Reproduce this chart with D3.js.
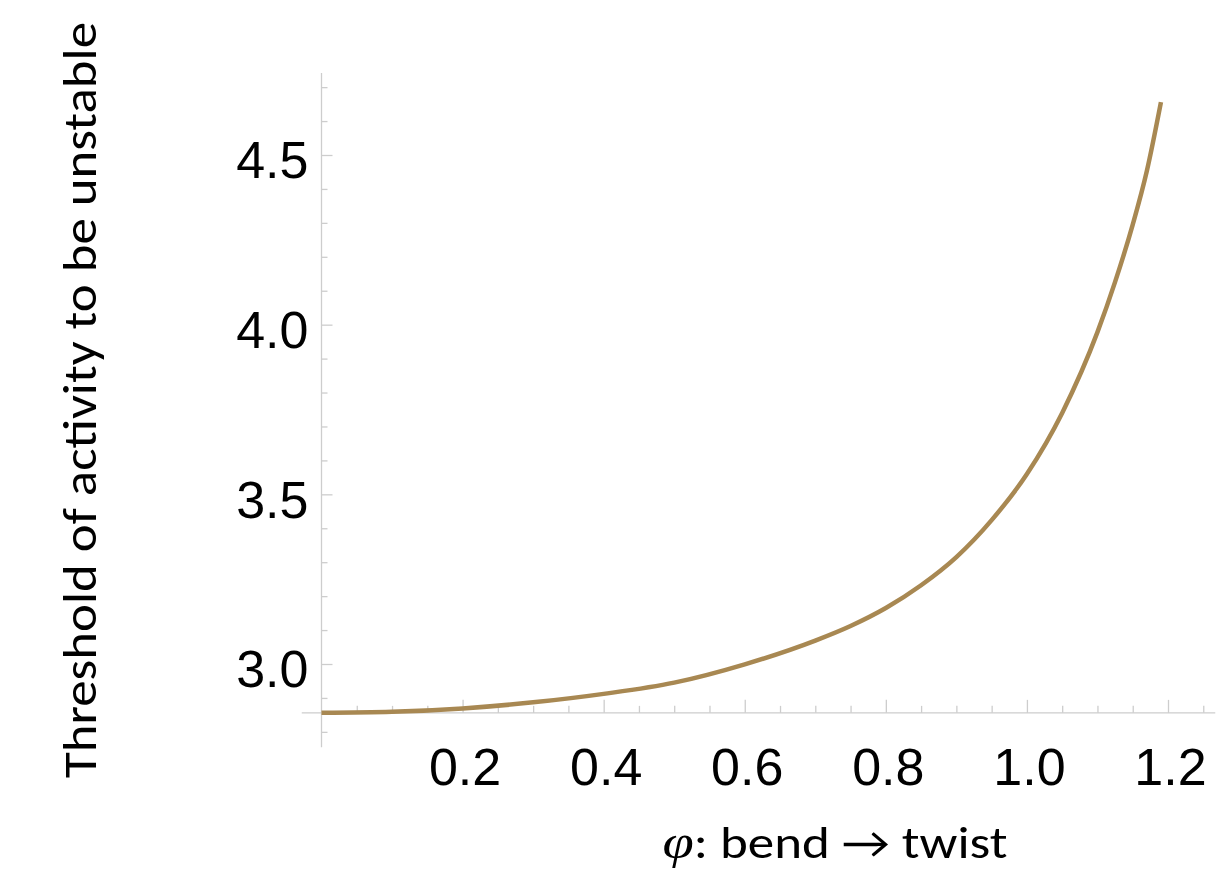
<!DOCTYPE html>
<html>
<head>
<meta charset="utf-8">
<script src="https://cdn.jsdelivr.net/npm/d3@7"></script>
<style>
  body { margin: 0; background: #fff; }
</style>
</head>
<body>
<div id="container"></div>
<script>
// values
const phi = [0, 0.1, 0.2, 0.3, 0.4, 0.5, 0.6, 0.7, 0.75, 0.8, 0.85, 0.9, 0.95, 1.0, 1.05, 1.1, 1.125, 1.15, 1.17, 1.19];
const threshold = [2.856, 2.859, 2.869, 2.887, 2.912, 2.945, 2.999, 3.069, 3.112, 3.165, 3.232, 3.315, 3.424, 3.56, 3.74, 3.978, 4.126, 4.295, 4.453, 4.656];

const xTicks = [0.2, 0.4, 0.6, 0.8, 1.0, 1.2];
const yTicks = [3.0, 3.5, 4.0, 4.5];
const xLabel = "φ";
const xLabelRest = ": bend → twist";
const yLabel = "Threshold of activity to be unstable";

const WIDTH = 1220,
      HEIGHT = 876;

const svg = d3.select("#container").append("svg")
    .attr("width", WIDTH)
    .attr("height", HEIGHT);

const x = d3.scaleLinear().domain([0, 1.2]).range([321.5, 1168]);
const y = d3.scaleLinear().domain([3.0, 4.5]).range([664, 155]);

const axisColor = "#cdcdcd";
const crossY = 2.856;   // where the horizontal axis sits

// axis lines
svg.append("line")
    .attr("x1", x(0)).attr("x2", x(0))
    .attr("y1", y(4.742)).attr("y2", y(2.755))
    .attr("stroke", axisColor).attr("stroke-width", 1.3);

svg.append("line")
    .attr("x1", x(-0.028)).attr("x2", x(1.267))
    .attr("y1", y(crossY)).attr("y2", y(crossY))
    .attr("stroke", axisColor).attr("stroke-width", 1.3);

const styleAxis = (g) => {
    g.select(".domain").remove();
    g.selectAll("line").attr("stroke", axisColor).attr("stroke-width", 1.3);
    g.selectAll("text")
        .attr("fill", "#000")
        .style("font-family", "'Liberation Sans', Arial, sans-serif")
        .style("font-size", "52px");
};

// y axis
const yMinor = d3.range(28, 48).map(d => d / 10).filter(d => !yTicks.includes(d));

svg.append("g")
    .attr("transform", `translate(${x(0)},0)`)
    .call(d3.axisLeft(y).tickValues(yMinor).tickSize(-6).tickFormat(""))
    .call(styleAxis);

svg.append("g")
    .attr("transform", `translate(${x(0)},0)`)
    .call(d3.axisLeft(y).tickValues(yTicks).tickSize(-11).tickPadding(13).tickFormat(d3.format(".1f")))
    .call(styleAxis)
    .selectAll("text")
    .attr("dy", "0.44em");

// x axis
const xMinor = d3.range(1, 26).map(d => d * 0.05).filter(d => !xTicks.some(t => Math.abs(t - d) < 1e-6));

svg.append("g")
    .attr("transform", `translate(0,${y(crossY)})`)
    .call(d3.axisBottom(x).tickValues(xMinor).tickSize(-7).tickFormat(""))
    .call(styleAxis);

svg.append("g")
    .attr("transform", `translate(0,${y(crossY)})`)
    .call(d3.axisBottom(x).tickValues(xTicks).tickSize(-13).tickPadding(35).tickFormat(d3.format(".1f")))
    .call(styleAxis)
    .selectAll("text")
    .attr("dx", 2);

// curve
const data = phi.map((p, i) => [p, threshold[i]]);

svg.append("path")
    .datum(data)
    .attr("fill", "none")
    .attr("stroke", "#a88852")
    .attr("stroke-width", 4.5)
    .attr("d", d3.line()
        .x(d => x(d[0]))
        .y(d => y(d[1]))
        .curve(d3.curveMonotoneX));

// titles
svg.append("text")
    .attr("transform", "translate(96,400) rotate(-90)")
    .attr("text-anchor", "middle")
    .attr("textLength", 756)
    .attr("lengthAdjust", "spacingAndGlyphs")
    .style("font-family", "Carlito, Lato, sans-serif")
    .style("font-size", "47px")
    .attr("fill", "#000")
    .text(yLabel);

const xt = svg.append("text")
    .attr("x", 835)
    .attr("y", 858)
    .attr("text-anchor", "middle")
    .attr("textLength", 345)
    .attr("lengthAdjust", "spacingAndGlyphs")
    .style("font-family", "Carlito, Lato, sans-serif")
    .style("font-size", "45px")
    .attr("fill", "#000");

xt.append("tspan")
    .style("font-family", "'Liberation Serif', 'DejaVu Serif', serif")
    .style("font-style", "italic")
    .style("font-size", "48px")
    .text(xLabel);

xt.append("tspan").text(xLabelRest);
</script>
</body>
</html>
